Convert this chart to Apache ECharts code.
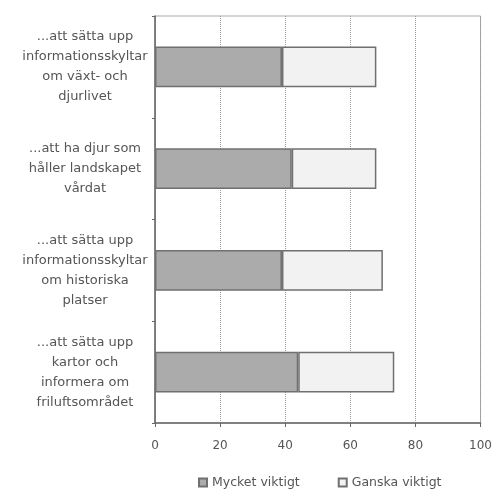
<!DOCTYPE html>
<html>
<head>
<meta charset="utf-8">
<script src="https://cdn.jsdelivr.net/npm/echarts@6/dist/echarts.min.js"></script>
<style>html,body{margin:0;padding:0;background:#fff}#c{width:495px;height:490px}</style>
</head>
<body>
<div id="c"></div>
<script>
var categories = [
  "...att sätta upp\ninformationsskyltar\nom växt- och\ndjurlivet",
  "...att ha djur som\nhåller landskapet\nvårdat",
  "...att sätta upp\ninformationsskyltar\nom historiska\nplatser",
  "...att sätta upp\nkartor och\ninformera om\nfriluftsområdet"
];
var seriesNames = ["Mycket viktigt", "Ganska viktigt"];
var mycketViktigt = [39, 42, 39, 44];
var ganskaViktigt = [29, 26, 31, 29.5];
var xTicks = [0, 20, 40, 60, 80, 100];

var chart = echarts.init(document.getElementById('c'));
chart.setOption({
  animation: false,
  backgroundColor: '#fff',
  textStyle: { fontFamily: 'DejaVu Sans, sans-serif' },
  grid: { left: 155, right: 13, top: 16, bottom: 67, show: true, borderColor: '#aaa', borderWidth: 1 },
  legend: {
    top: 471, left: 193,
    itemGap: 38, itemWidth: 8, itemHeight: 8, icon: 'rect',
    textStyle: { fontSize: 12.5, color: '#555', fontFamily: 'DejaVu Sans' },
    data: seriesNames
  },
  xAxis: {
    type: 'value', min: 0, max: 100, interval: 20,
    axisLine: { show: true, lineStyle: { color: '#666', width: 1.5 } },
    axisTick: { show: true, length: 4, lineStyle: { color: '#666' } },
    axisLabel: { color: '#555', fontSize: 12, margin: 17, fontFamily: 'DejaVu Sans',
      formatter: function (v) { return xTicks.indexOf(v) >= 0 ? String(v) : ''; } },
    splitLine: { show: true, lineStyle: { color: '#999', type: 'dotted' } }
  },
  yAxis: {
    type: 'category', inverse: true, data: categories,
    axisLine: { show: true, lineStyle: { color: '#666', width: 1.5 } },
    axisTick: { show: true, length: 3, lineStyle: { color: '#666' } },
    axisLabel: { color: '#555', fontSize: 13, lineHeight: 20, align: 'center', margin: 70, fontFamily: 'DejaVu Sans' }
  },
  series: [
    { name: seriesNames[0], type: 'bar', stack: 's', barWidth: '40%', data: mycketViktigt,
      itemStyle: { color: '#ababab', borderColor: '#707070', borderWidth: 1.5 } },
    { name: seriesNames[1], type: 'bar', stack: 's', barWidth: '40%', data: ganskaViktigt,
      itemStyle: { color: '#f2f2f2', borderColor: '#707070', borderWidth: 1.5 } }
  ]
});
</script>
</body>
</html>
